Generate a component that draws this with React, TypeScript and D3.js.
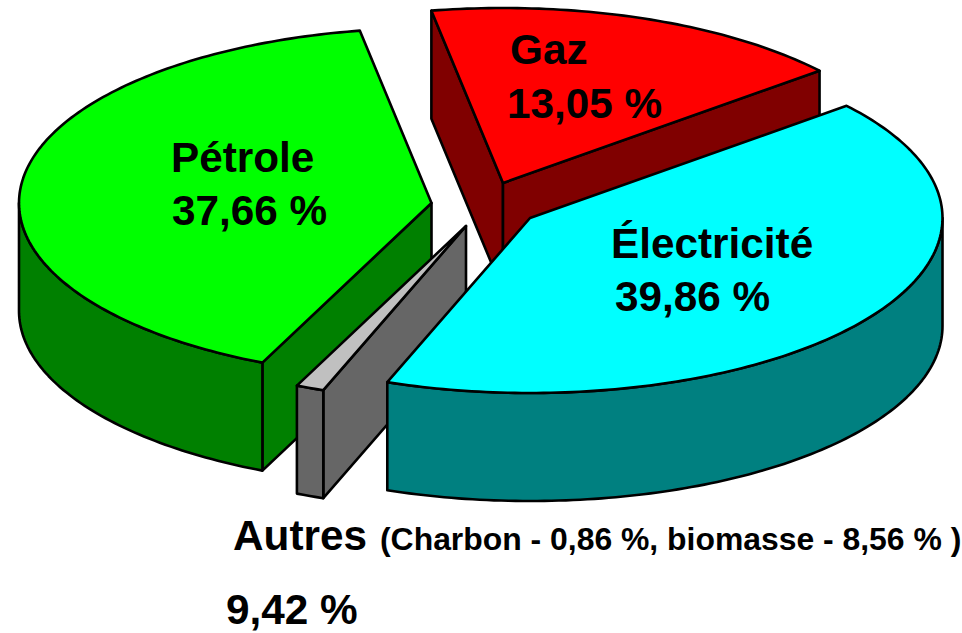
import React from "react";
import * as d3 from "d3";

// Clockwise from the back of the pie. The picture does not draw the slices in
// proportion to the printed percentages, so both are kept.
const categories = ["Gaz", "Électricité", "Autres", "Pétrole"];
const percentLabels = ["13,05 %", "39,86 %", "9,42 %", "37,66 %"];
const drawnShares = [16.7, 41.7, 1.1, 40.5];
const autresDetail = "(Charbon - 0,86 %, biomasse - 8,56 % )";

const topColors = ["#ff0000", "#00ffff", "#c0c0c0", "#00ff00"];
const wallColors = ["#800000", "#008080", "#666666", "#008000"];

// apex of each exploded slice
const apexes: [number, number][] = [[503, 183], [530, 218], [466, 226], [431.5, 203]];
const paintOrder = [0, 3, 2, 1];

const WIDTH = 962;
const HEIGHT = 633;
const RX = 412.5;
const RY = 175;
const DEPTH = 108;
const FONT = "'Liberation Sans', Arial, sans-serif";

const rad = (deg: number) => (deg * Math.PI) / 180;

const pie = d3
  .pie<number>()
  .sort(null)
  .startAngle(rad(-10))
  .endAngle(rad(350));

const line = d3.line<[number, number]>();

const App: React.FC = () => {
  const arcs = pie(drawnShares);

  const slices = paintOrder.map((i) => {
    const { startAngle: a0, endAngle: a1 } = arcs[i];
    const [cx, cy] = apexes[i];
    const at = (a: number): [number, number] => [cx + RX * Math.sin(a), cy - RY * Math.cos(a)];
    const sample = (from: number, to: number) => [...d3.range(from, to, rad(1)), to].map(at);
    const drop = (pts: [number, number][]) =>
      pts.map(([x, y]) => [x, y + DEPTH] as [number, number]);
    const wall = (pts: [number, number][]) => line([...pts, ...drop(pts).reverse()]) + "Z";

    const walls: string[] = [];
    if (Math.sin(a0) < 0) walls.push(wall([[cx, cy], at(a0)]));
    if (Math.sin(a1) > 0) walls.push(wall([[cx, cy], at(a1)]));
    // only the front half of the rim faces the viewer
    const rimFrom = Math.max(a0, rad(90));
    const rimTo = Math.min(a1, rad(270));
    if (rimFrom < rimTo) walls.push(wall(sample(rimFrom, rimTo)));

    const top = line([[cx, cy], ...sample(a0, a1)]) + "Z";
    return { i, walls, top };
  });

  const labelStyle = { fontFamily: FONT, fontWeight: 700, fontSize: 42.3, fill: "#000" };

  return (
    <svg
      width={WIDTH}
      height={HEIGHT}
      style={{ position: "absolute", left: 0, top: 0, background: "#fff" }}
    >
      {slices.map(({ i, walls, top }) => (
        <g key={categories[i]} stroke="#000" strokeWidth={2.6} strokeLinejoin="round">
          {walls.map((d, k) => (
            <path key={k} d={d} fill={wallColors[i]} />
          ))}
          <path d={top} fill={topColors[i]} />
        </g>
      ))}

      <g style={labelStyle}>
        <text x={510} y={64}>{categories[0]}</text>
        <text x={507} y={118}>{percentLabels[0]}</text>
        <text x={611} y={258}>{categories[1]}</text>
        <text x={615} y={311}>{percentLabels[1]}</text>
        <text x={171} y={172}>{categories[3]}</text>
        <text x={172} y={225}>{percentLabels[3]}</text>
        <text x={233} y={550}>{categories[2]}</text>
        <text x={226} y={624}>{percentLabels[2]}</text>
        <text x={380} y={550} style={{ fontSize: 31.9 }}>{autresDetail}</text>
      </g>
    </svg>
  );
};

export default App;
